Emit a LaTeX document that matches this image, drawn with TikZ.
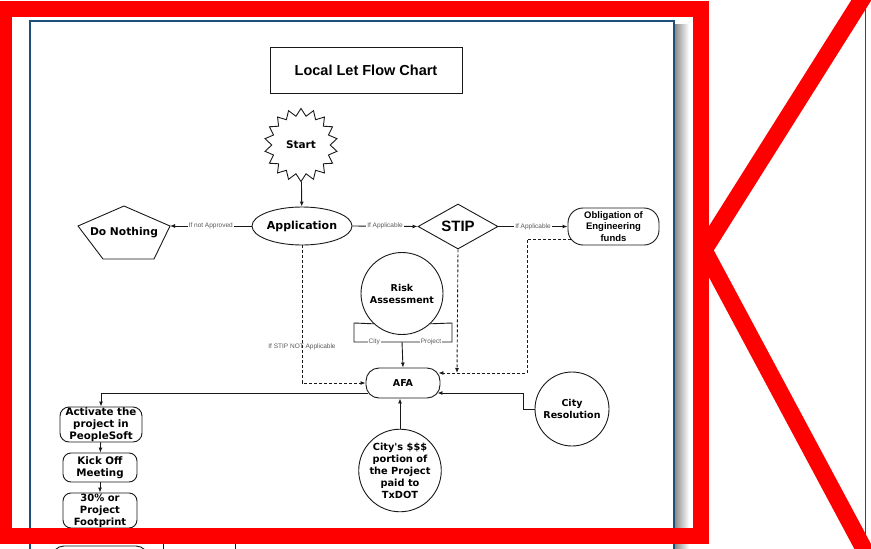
\documentclass[tikz,border=0pt]{standalone}
\usepackage{fontspec}
\setmainfont{Liberation Sans}
\newfontfamily\heavy{DejaVu Sans}
\usetikzlibrary{shapes.geometric,shapes.misc,arrows.meta,calc}
\definecolor{pageblue}{RGB}{31,78,121}
\definecolor{ink}{RGB}{25,25,25}
\definecolor{alarm}{RGB}{255,0,0}
\tikzset{
  ln/.style={draw=ink, line width=0.9pt},
  arr/.style={ln, -{Latex[length=5pt,width=4pt]}},
  dsh/.style={dash pattern=on 3pt off 2pt},
  lbl/.style={font=\fontsize{6.5}{7}\selectfont, text=black!65, fill=white, inner sep=1pt},
  hv/.style={font=\heavy\bfseries\fontsize{#1}{12}\selectfont, align=center},
  hv/.default=10,
  shapebox/.style={draw=ink, line width=0.9pt, inner sep=0pt},
}
\begin{document}
\begin{tikzpicture}[x=1pt,y=-1pt]
\useasboundingbox (0,0) rectangle (871,549);
\clip (0,0) rectangle (871,549);
\fill[white] (0,0) rectangle (871,549);
% page shadow and pages
\shade[left color=black!45, right color=white] (675,24) rectangle (689,560);
\draw[pageblue, line width=1.2pt, fill=white] (30,21) rectangle (674,600);
\draw[pageblue, line width=1pt] (865,-5) -- (865,560);

% title
\node[shapebox, minimum width=192pt, minimum height=46pt, font=\bfseries\fontsize{14.5}{16}\selectfont] (title) at (366,70) {Local Let Flow Chart};

% nodes
\node[shapebox, star, star points=18, star point ratio=1.25, minimum size=73pt, hv=10.5] (start) at (301,145) {Start};
\node[shapebox, ellipse, minimum width=100pt, minimum height=38pt, hv=11] (app) at (302,226) {Application};
\draw[ln] (124,206) -- (170,226) -- (154,259) -- (103,259) -- (78,226) -- cycle;
\node[hv=10.7] (nothing) at (124,233) {Do Nothing};
\coordinate (nothR) at (170,226);
\node[shapebox, diamond, minimum width=80pt, minimum height=45pt, font=\bfseries\fontsize{15}{16}\selectfont] (stip) at (458,226.5) {STIP};
\node[shapebox, rounded corners=15pt, minimum width=91pt, minimum height=37pt, font=\bfseries\fontsize{9.5}{11.5}\selectfont, align=center] (obl) at (613.5,226.5) {Obligation of\\Engineering\\funds};
\node[shapebox, circle, minimum size=82pt, hv=9.5] (risk) at (402,293.5) {Risk\\Assessment};
\node[shapebox, rounded corners=13pt, minimum width=74pt, minimum height=30pt, hv=9.5] (afa) at (403,383) {AFA};
\node[shapebox, circle, minimum size=74pt, hv=9.5] (cres) at (572,409) {City\\Resolution};
\node[shapebox, circle, minimum size=74pt, hv=9.8] (cpay) at (400,470.5) {City's \$\$\$\\portion of\\the Project\\paid to\\TxDOT};
\node[shapebox, rounded corners=9pt, minimum width=82pt, minimum height=35pt, hv=10.3] (act) at (101,424.5) {Activate the\\project in\\PeopleSoft};
\node[shapebox, rounded corners=8pt, minimum width=74pt, minimum height=29pt, hv=10.3] (kick) at (100,467.5) {Kick Off\\Meeting};
\node[shapebox, rounded corners=8pt, minimum width=74pt, minimum height=35pt, hv=10] (foot) at (100,510.5) {30\% or\\Project\\Footprint};
% partially visible next row
\node[shapebox, rounded corners=12pt, minimum width=96pt, minimum height=30pt] (nextbox) at (100,561) {};
\node[shapebox, minimum width=72pt, minimum height=40pt, anchor=north, inner sep=4pt, hv=10] (txdot) at (199,540) {TxDOT's};

% connectors
\draw[arr] (start) -- (app);
\draw[arr] (app.west) -- node[lbl]{If not Approved} (nothR);
\draw[arr] (app.east) -- node[lbl]{If Applicable} (stip.west);
\draw[arr] (stip.east) -- node[lbl]{If Applicable} (obl.west);
\draw[arr, dsh] (app.south) |- node[pos=0.37, lbl, fill=none]{If STIP NOT Applicable} (afa.west);
\coordinate (join) at (457,373);
\draw[arr, dsh] (stip.south) -- (join);
\coordinate (oblOut) at (571,239);
\coordinate (bend) at (527,373);
\draw[arr, dsh] (oblOut) -| (bend) -- ($(afa.east)+(-2,-10)$);
% risk bracket
\coordinate (rj) at (402,342);
\draw[ln] (risk.227) -- (354,323) -- (354,342) -- node[lbl, pos=0.42]{City} (rj);
\draw[ln] (risk.-47) -- (452,323) -- (452,342) -- node[lbl, pos=0.42]{Project} (rj);
\draw[arr] (rj) -- (afa.north);
\draw[arr] (cpay.north) -- (cpay.north |- afa.south);
\draw[arr] (cres.west) -- (523,409) |- ($(afa.east)+(-3,10)$);
\draw[arr] ($(afa.west)+(2,10)$) -| (act.north);
\draw[arr] (act) -- (kick);
\draw[arr] (kick) -- (foot);

% red overlay
\draw[alarm, line width=16pt, line join=miter] (4,9) rectangle (701,536);
\draw[alarm, line width=17pt, line join=miter] (869,-12) -- (704,250) -- (871,562);
\end{tikzpicture}
\end{document}
